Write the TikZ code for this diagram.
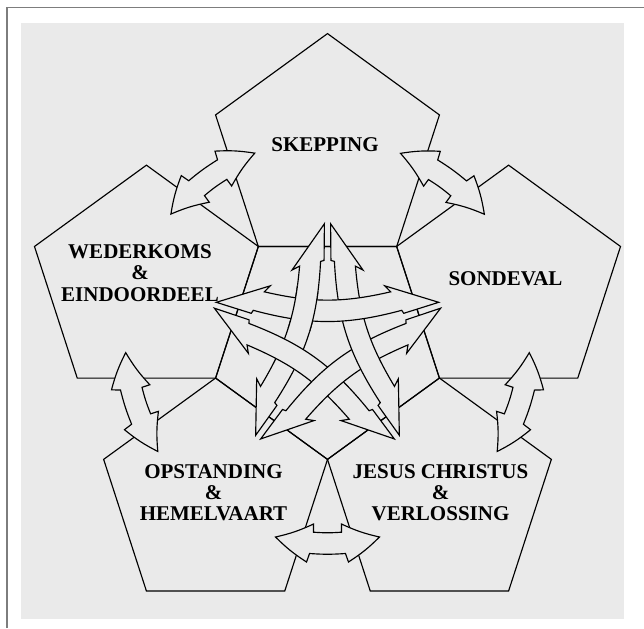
\documentclass[tikz,border=0pt]{standalone}
\usepackage{fontspec}
\setmainfont{Liberation Serif}
\usetikzlibrary{calc}
\definecolor{bggray}{RGB}{234,234,234}
\definecolor{framegray}{RGB}{125,125,125}
\tikzset{
  pent/.style={draw=black, line width=1.15pt, line join=miter},
  blk/.style={draw=black, fill=bggray, line width=1.15pt, line join=miter, miter limit=20},
  lbl/.style={font=\bfseries\fontsize{21}{21.2}\selectfont, align=center, inner sep=0pt},
}
% parameter sets, in the chord frame (x from a tip along the chord, y = + side)
\newcommand\ArrOuter{\def\pbx{38}\def\pby{13}\def\pnx{38}\def\pny{4.8}%
  \def\mbx{31}\def\mby{-25}\def\mnx{34}\def\mny{-16.5}\def\pbend{-4}\def\mbend{-4}\def\hbend{6}}
\newcommand\ArrInner{\def\pbx{54}\def\pby{16.5}\def\pnx{48}\def\pny{10.5}%
  \def\mbx{35}\def\mby{-11}\def\mnx{37}\def\mny{-8}\def\pbend{-13}\def\mbend{-15}\def\hbend{0}}
% outline through the named points of arrow #1
\newcommand\arrowoutline[1]{%
  \draw[blk] (#1-Amb) to[bend left=\hbend] (#1-At) to[bend right=\hbend] (#1-Apb) -- (#1-Apn)
     to[bend left=\pbend] (#1-Bpn) -- (#1-Bpb) to[bend right=\hbend] (#1-Bt)
     to[bend left=\hbend] (#1-Bmb) -- (#1-Bmn) to[bend right=\mbend] (#1-Amn) -- cycle;
}
% #1 tip A, #2 tip B, #3 name
\newcommand\blockarrow[3]{%
  \path (#1); \pgfgetlastxy{\bax}{\bay}%
  \path (#2); \pgfgetlastxy{\bbx}{\bby}%
  \pgfmathsetmacro\bang{atan2(\bby-\bay,\bbx-\bax)}%
  \pgfmathsetmacro\blen{veclen(\bbx-\bax,\bby-\bay)}%
  \begin{scope}[shift={(#1)},rotate=\bang,x=1pt,y=1pt]
    \coordinate (#3-At) at (0,0);
    \coordinate (#3-Apb) at (\pbx,\pby);
    \coordinate (#3-Apn) at (\pnx,\pny);
    \coordinate (#3-Amb) at (\mbx,\mby);
    \coordinate (#3-Amn) at (\mnx,\mny);
    \coordinate (#3-Bt) at (\blen,0);
    \coordinate (#3-Bpb) at (\blen-\pbx,\pby);
    \coordinate (#3-Bpn) at (\blen-\pnx,\pny);
    \coordinate (#3-Bmb) at (\blen-\mbx,\mby);
    \coordinate (#3-Bmn) at (\blen-\mnx,\mny);
  \end{scope}
  \arrowoutline{#3}%
}
\begin{document}
\begin{tikzpicture}[x=1pt,y=-1pt]
\useasboundingbox (0,0) rectangle (644,628);
\fill[white] (0,0) rectangle (644,628);
\fill[bggray] (20.5,22.7) rectangle (624,619);
\draw[framegray, line width=1.5pt] (7,628) -- (7,7.5) -- (644,7.5);

\coordinate (C) at (327.5,341.7);
% central pentagon
\foreach \i/\a in {0/90,1/162,2/234,3/306,4/18}
  \coordinate (c\i) at ($(C)+(\a:117.7)$);
\draw[pent] (c0) -- (c1) -- (c2) -- (c3) -- (c4) -- cycle;
% outer pentagons
\foreach \k/\t in {0/-90,1/-18,2/54,3/126,4/198}{
  \coordinate (o\k) at ($(C)+(\t:190.4)$);
  \draw[pent] ($(o\k)+(\t:117.7)$) -- ($(o\k)+(\t+72:117.7)$) -- ($(o\k)+(\t+144:117.7)$)
     -- ($(o\k)+(\t+216:117.7)$) -- ($(o\k)+(\t+288:117.7)$) -- cycle;
}
% inner (pentagram) arrows, woven: arrow k lies over arrow k+1
\ArrInner
\foreach \k in {4,3,2,1,0}{
  \coordinate (iA\k) at ($(C)+(-160.5+72*\k:118)$);
  \coordinate (iB\k) at ($(C)+(-19.5+72*\k:118)$);
  \blockarrow{iA\k}{iB\k}{in\k}
}
\begin{scope}
  \clip (302,309) circle (24);
  \arrowoutline{in4}
\end{scope}
% outer arrows
\ArrOuter
\foreach \k in {0,...,4}{
  \coordinate (oA\k) at ($(C)+(104.9+72*\k:202.1)$);
  \coordinate (oB\k) at ($(C)+(75.1+72*\k:202.1)$);
  \blockarrow{oA\k}{oB\k}{out\k}
}
% labels
\node[lbl] (skep) at (325,145) {SKEPPING};
\node[lbl] (wed) at (140,273) {WEDERKOMS\\\&\\EINDOORDEEL};
\node[lbl] (sond) at (505.5,279) {SONDEVAL};
\node[lbl] (opst) at (213.5,492.6) {OPSTANDING\\\&\\HEMELVAART};
\node[lbl] (jesus) at (440.5,492.6) {JESUS CHRISTUS\\\&\\VERLOSSING};
\end{tikzpicture}
\end{document}
